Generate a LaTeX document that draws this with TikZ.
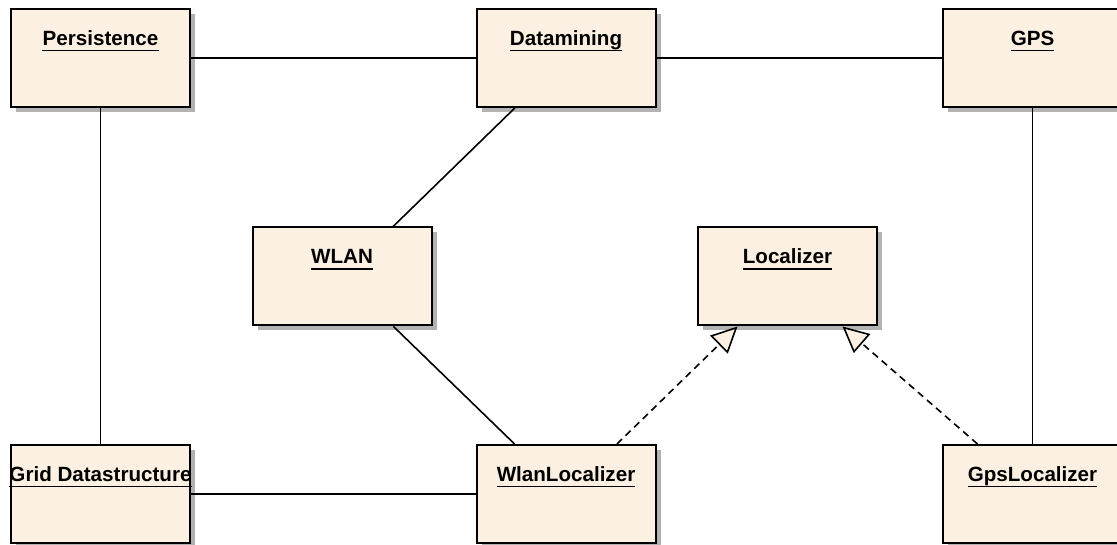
\documentclass[tikz,border=0pt]{standalone}
\usepackage{fontspec}
\setmainfont{Liberation Sans}
\usetikzlibrary{arrows.meta,shadows}

\definecolor{classfill}{RGB}{251,240,226}
\definecolor{shadowgray}{RGB}{178,178,178}

\tikzset{
  classbox/.style={draw=black, line width=2pt, fill=classfill,
    minimum width=179pt, minimum height=98pt, inner sep=0pt,
    drop shadow={shadow xshift=5pt, shadow yshift=-5pt, fill=shadowgray, opacity=1}},
  classname/.style={inner sep=0pt, font=\fontsize{20.6}{22}\selectfont\bfseries},
  nameline/.style={line width=1.8pt},
  assoc/.style={line width=1.6pt},
  realize/.style={line width=1.6pt, dash pattern=on 7pt off 5pt,
    -{Triangle[length=26pt, width=25pt, fill=classfill, line width=1.6pt]}}
}

% a class box with its underlined name near the top
\newcommand{\classbox}[3]{%
  \node[classbox] (#1) at (#2) {};
  \node[classname, anchor=base] (#1-name) at ([yshift=-37.5pt]#1.north) {#3};
  \draw[nameline] ([yshift=-5pt]#1-name.base west) -- ([yshift=-5pt]#1-name.base east);
}

\begin{document}
\begin{tikzpicture}[x=1pt, y=-1pt]
  \useasboundingbox (0,0) rectangle (1117,545);
  \clip (0,0) rectangle (1117,545);

  \classbox{pers}{100.5,58}{Persistence}
  \classbox{data}{566,58}{Datamining}
  \classbox{gps}{1032.5,58}{GPS}
  \classbox{wlan}{342,276.5}{WLAN}
  \classbox{loc}{787.5,276.5}{Localizer}
  \classbox{grid}{100.5,494}{Grid Datastructure}
  \classbox{wlanloc}{566,494}{WlanLocalizer}
  \classbox{gpsloc}{1032.5,494}{GpsLocalizer}

  % associations
  \draw[assoc] (pers) -- (data);
  \draw[assoc] (data) -- (gps);
  \draw[assoc] (pers) -- (grid);
  \draw[assoc] (data) -- (wlan);
  \draw[assoc] (wlan) -- (wlanloc);
  \draw[assoc] (grid) -- (wlanloc);
  \draw[assoc] (gps) -- (gpsloc);

  % realizations of the Localizer interface
  \draw[realize] ([xshift=51pt]wlanloc.north) -- ([xshift=-50pt]loc.south);
  \draw[realize] ([xshift=-55pt]gpsloc.north) -- ([xshift=55pt]loc.south);
\end{tikzpicture}
\end{document}
